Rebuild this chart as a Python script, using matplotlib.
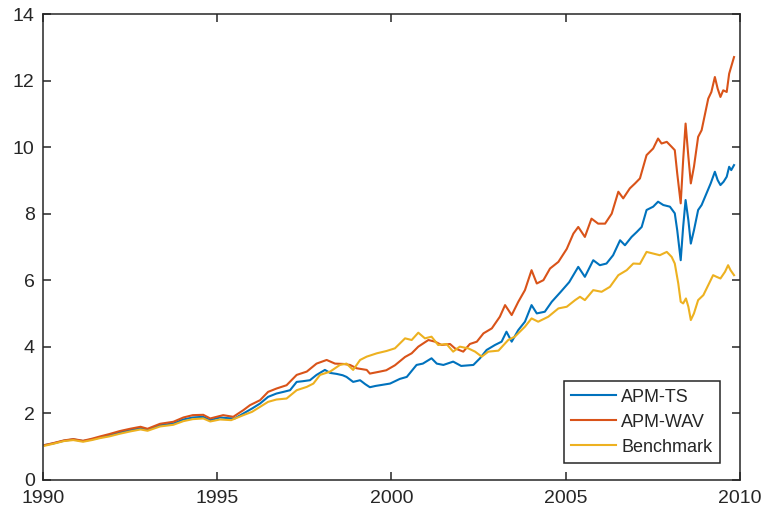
import matplotlib.pyplot as plt
import numpy as np

plt.rcParams['font.family'] = ['Liberation Sans', 'DejaVu Sans']

# decimal-year sample times and index levels for each strategy
ts_years = [1990.05, 1990.3, 1990.6, 1990.87, 1991.15, 1991.4, 1991.64, 1991.9, 1992.2, 1992.5,
            1992.8, 1993.0, 1993.36, 1993.74, 1994.03, 1994.3, 1994.6, 1994.8, 1995.08, 1995.3,
            1995.5, 1995.75, 1996.0, 1996.23, 1996.46, 1996.7, 1996.9, 1997.09, 1997.28, 1997.45,
            1997.66, 1997.85, 1998.09, 1998.24, 1998.43, 1998.6, 1998.71, 1998.9, 1999.1, 1999.25,
            1999.38, 1999.55, 1999.67, 1999.96, 2000.24, 2000.44, 2000.72, 2000.9, 2001.15, 2001.3,
            2001.49, 2001.77, 2002.0, 2002.35, 2002.54, 2002.73, 2002.97, 2003.16, 2003.3, 2003.45,
            2003.64, 2003.83, 2004.02, 2004.17, 2004.4, 2004.6, 2004.85, 2005.1, 2005.36, 2005.55,
            2005.79, 2005.98, 2006.17, 2006.36, 2006.56, 2006.7, 2006.89, 2007.04, 2007.18, 2007.32,
            2007.51, 2007.65, 2007.8, 2007.99, 2008.13, 2008.2, 2008.3, 2008.37, 2008.44, 2008.52,
            2008.59, 2008.68, 2008.8, 2008.9, 2009.04, 2009.16, 2009.28, 2009.36, 2009.44, 2009.53,
            2009.62, 2009.69, 2009.75, 2009.83]
ts_vals = [1.05, 1.10, 1.18, 1.22, 1.17, 1.22, 1.28, 1.35, 1.43, 1.50,
           1.56, 1.51, 1.65, 1.70, 1.82, 1.88, 1.90, 1.80, 1.88, 1.86,
           1.85, 2.00, 2.15, 2.30, 2.50, 2.60, 2.65, 2.70, 2.95, 2.97,
           3.00, 3.16, 3.31, 3.22, 3.19, 3.15, 3.10, 2.95, 3.00, 2.88,
           2.79, 2.83, 2.85, 2.90, 3.04, 3.10, 3.46, 3.50, 3.66, 3.50,
           3.46, 3.56, 3.43, 3.46, 3.66, 3.91, 4.06, 4.16, 4.46, 4.16,
           4.51, 4.76, 5.26, 5.01, 5.06, 5.36, 5.65, 5.95, 6.41, 6.11,
           6.61, 6.46, 6.51, 6.76, 7.21, 7.06, 7.31, 7.46, 7.61, 8.12,
           8.22, 8.37, 8.27, 8.22, 8.02, 7.51, 6.61, 7.61, 8.42, 7.81,
           7.11, 7.51, 8.12, 8.27, 8.62, 8.92, 9.27, 9.02, 8.87, 8.97,
           9.12, 9.42, 9.32, 9.47]

wav_years = [1990.05, 1990.3, 1990.6, 1990.87, 1991.15, 1991.4, 1991.64, 1991.9, 1992.2, 1992.5,
             1992.8, 1993.0, 1993.36, 1993.74, 1994.03, 1994.3, 1994.6, 1994.8, 1995.17, 1995.46,
             1995.75, 1995.94, 1996.23, 1996.46, 1996.7, 1996.99, 1997.28, 1997.57, 1997.85, 1998.14,
             1998.38, 1998.62, 1998.81, 1999.0, 1999.29, 1999.38, 1999.67, 1999.85, 2000.1, 2000.39,
             2000.58, 2000.77, 2001.06, 2001.25, 2001.44, 2001.68, 2001.82, 2002.06, 2002.25, 2002.45,
             2002.64, 2002.88, 2003.11, 2003.26, 2003.45, 2003.64, 2003.83, 2004.02, 2004.17, 2004.36,
             2004.55, 2004.79, 2005.03, 2005.22, 2005.36, 2005.55, 2005.74, 2005.93, 2006.13, 2006.32,
             2006.51, 2006.65, 2006.84, 2006.99, 2007.13, 2007.32, 2007.51, 2007.65, 2007.75, 2007.9,
             2008.04, 2008.13, 2008.2, 2008.3, 2008.37, 2008.44, 2008.52, 2008.59, 2008.68, 2008.8,
             2008.9, 2008.99, 2009.09, 2009.18, 2009.28, 2009.36, 2009.44, 2009.52, 2009.62, 2009.69,
             2009.83]
wav_vals = [1.05, 1.11, 1.19, 1.23, 1.18, 1.24, 1.31, 1.38, 1.47, 1.54,
            1.60, 1.54, 1.69, 1.75, 1.88, 1.95, 1.96, 1.85, 1.95, 1.90,
            2.10, 2.25, 2.40, 2.65, 2.75, 2.85, 3.16, 3.26, 3.50, 3.61,
            3.50, 3.49, 3.46, 3.36, 3.31, 3.20, 3.26, 3.30, 3.45, 3.70,
            3.81, 4.01, 4.21, 4.16, 4.06, 4.09, 3.96, 3.86, 4.09, 4.16,
            4.41, 4.56, 4.91, 5.26, 4.96, 5.36, 5.71, 6.31, 5.91, 6.01,
            6.36, 6.56, 6.95, 7.41, 7.61, 7.31, 7.86, 7.71, 7.71, 8.01,
            8.67, 8.47, 8.77, 8.92, 9.07, 9.77, 9.97, 10.27, 10.12, 10.17,
            10.02, 9.92, 9.22, 8.32, 9.62, 10.72, 9.72, 8.92, 9.42, 10.32,
            10.52, 10.97, 11.47, 11.67, 12.12, 11.77, 11.52, 11.72, 11.67, 12.22,
            12.72]

bench_years = [1990.05, 1990.3, 1990.6, 1990.87, 1991.15, 1991.4, 1991.64, 1991.9, 1992.2, 1992.5,
               1992.8, 1993.0, 1993.36, 1993.74, 1994.03, 1994.3, 1994.6, 1994.8, 1995.08, 1995.4,
               1995.75, 1996.0, 1996.23, 1996.46, 1996.7, 1996.99, 1997.28, 1997.57, 1997.76, 1997.95,
               1998.24, 1998.52, 1998.71, 1998.9, 1999.1, 1999.29, 1999.58, 1999.86, 2000.1, 2000.39,
               2000.58, 2000.77, 2000.96, 2001.15, 2001.34, 2001.58, 2001.77, 2001.96, 2002.2, 2002.4,
               2002.59, 2002.78, 2003.07, 2003.35, 2003.54, 2003.83, 2004.02, 2004.21, 2004.5, 2004.79,
               2005.03, 2005.27, 2005.41, 2005.55, 2005.79, 2006.03, 2006.27, 2006.51, 2006.75, 2006.94,
               2007.13, 2007.32, 2007.51, 2007.7, 2007.9, 2008.04, 2008.13, 2008.23, 2008.3, 2008.37,
               2008.45, 2008.52, 2008.59, 2008.68, 2008.8, 2008.95, 2009.09, 2009.23, 2009.33, 2009.44,
               2009.57, 2009.66, 2009.73, 2009.83]
bench_vals = [1.03, 1.09, 1.17, 1.20, 1.15, 1.20, 1.26, 1.31, 1.39, 1.46,
              1.52, 1.48, 1.61, 1.66, 1.77, 1.83, 1.85, 1.76, 1.82, 1.80,
              1.95, 2.05, 2.20, 2.35, 2.42, 2.45, 2.70, 2.80, 2.90, 3.16,
              3.26, 3.46, 3.50, 3.31, 3.61, 3.71, 3.81, 3.88, 3.96, 4.26,
              4.21, 4.43, 4.26, 4.31, 4.06, 4.09, 3.86, 4.01, 3.96, 3.86,
              3.71, 3.86, 3.89, 4.21, 4.31, 4.61, 4.86, 4.76, 4.91, 5.16,
              5.21, 5.41, 5.51, 5.41, 5.71, 5.66, 5.81, 6.16, 6.31, 6.51,
              6.50, 6.86, 6.81, 6.76, 6.86, 6.71, 6.51, 5.91, 5.36, 5.31,
              5.46, 5.21, 4.81, 5.01, 5.41, 5.56, 5.86, 6.16, 6.11, 6.06,
              6.26, 6.46, 6.31, 6.16]

series_labels = ['APM-TS', 'APM-WAV', 'Benchmark']
series_colors = ['#0072BD', '#D95319', '#EDB120']

x_ticks = [1990, 1995, 2000, 2005, 2010]
y_ticks = [0, 2, 4, 6, 8, 10, 12, 14]

ink = '#262626'

fig = plt.figure(figsize=(7.66, 5.16), dpi=100)
ax = fig.add_axes([0.0561, 0.0698, 0.9099, 0.9021])

for xs, ys, lab, col in zip([ts_years, wav_years, bench_years],
                            [ts_vals, wav_vals, bench_vals],
                            series_labels, series_colors):
    ax.plot(xs, ys, color=col, linewidth=1.5, label=lab)

ax.set_xlim(1990, 2010)
ax.set_ylim(0, 14)
ax.set_xticks(x_ticks)
ax.set_yticks(y_ticks)
ax.tick_params(direction='in', top=True, right=True, length=6, width=1.1,
               color=ink, labelcolor=ink, labelsize=14)
ax.tick_params(axis='x', pad=7)
ax.tick_params(axis='y', pad=6)
for sp in ax.spines.values():
    sp.set_color(ink)
    sp.set_linewidth(1.1)

leg = ax.legend(loc='lower right', bbox_to_anchor=(0.971, 0.0365), borderaxespad=0,
                fontsize=13, handlelength=2.5, handletextpad=0.3, labelspacing=0.45,
                borderpad=0.4, fancybox=False, framealpha=1)
leg.get_frame().set_edgecolor(ink)
leg.get_frame().set_linewidth(1.1)
for t in leg.get_texts():
    t.set_color(ink)

fig.savefig('out.png', dpi=100)
